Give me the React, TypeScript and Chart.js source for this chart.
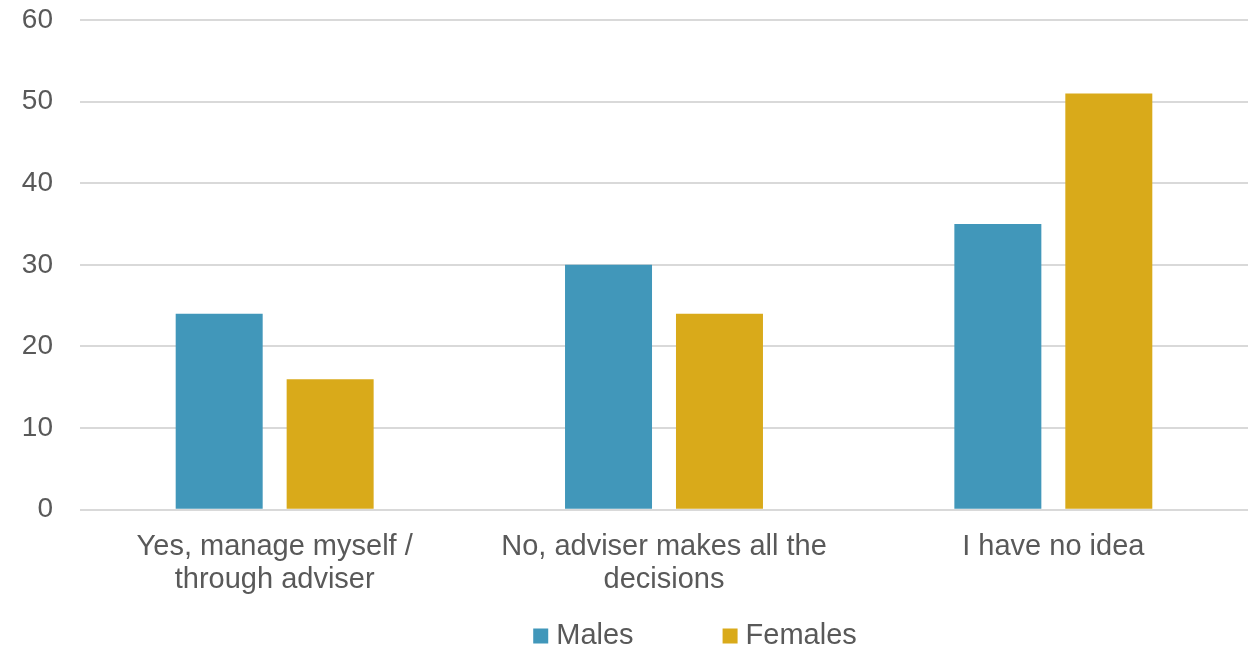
import React, { useEffect, useRef } from "react";
import { Chart, registerables } from "chart.js";

Chart.register(...registerables);

const categories: string[][] = [
  ["Yes, manage myself /", "through adviser"],
  ["No, adviser makes all the", "decisions"],
  ["I have no idea"],
];
const seriesNames = ["Males", "Females"];
const males = [24, 30, 35];
const females = [16, 24, 51];
const yTicks = [0, 10, 20, 30, 40, 50, 60];

const TEAL = "#4197BA";
const GOLD = "#D9AA1A";
const TEXT = "#595959";
const FONT = "'Liberation Sans', Arial, sans-serif";

const legendPlugin = {
  id: "customLegend",
  afterDraw(chart: any) {
    const ctx = chart.ctx;
    const ds = chart.data.datasets;
    ctx.save();
    ctx.font = `29px ${FONT}`;
    ctx.textBaseline = "middle";
    const box = 15;
    const gapText = 8;
    const gapItem = 89;
    const widths = ds.map((d: any) => box + gapText + ctx.measureText(d.label).width);
    const total = widths.reduce((a: number, b: number) => a + b, 0) + gapItem * (ds.length - 1);
    const centerX = (chart.chartArea.left + chart.chartArea.right) / 2 + 31;
    let x = centerX - total / 2;
    const y = chart.height - 16;
    ds.forEach((d: any, i: number) => {
      ctx.fillStyle = d.backgroundColor;
      ctx.fillRect(x, y - box / 2, box, box);
      ctx.fillStyle = TEXT;
      ctx.textAlign = "left";
      ctx.fillText(d.label, x + box + gapText, y);
      x += widths[i] + gapItem;
    });
    ctx.restore();
  },
};

export default function App() {
  const ref = useRef<HTMLCanvasElement | null>(null);
  useEffect(() => {
    document.body.style.margin = "0";
    if (!ref.current) return;
    const chart = new Chart(ref.current, {
      type: "bar",
      data: {
        labels: categories as any,
        datasets: [
          { label: seriesNames[0], data: males, backgroundColor: TEAL, categoryPercentage: 0.57, barPercentage: 0.784 },
          { label: seriesNames[1], data: females, backgroundColor: GOLD, categoryPercentage: 0.57, barPercentage: 0.784 },
        ],
      },
      options: {
        animation: false,
        responsive: true,
        maintainAspectRatio: false,
        layout: { padding: { top: 20, right: 10, left: 20, bottom: 35 } },
        plugins: { legend: { display: false }, tooltip: { enabled: false } },
        scales: {
          x: {
            grid: { display: false, drawTicks: false },
            border: { display: false },
            ticks: { color: TEXT, font: { family: FONT, size: 29, lineHeight: 1.16 }, padding: 20, maxRotation: 0, autoSkip: false },
          },
          y: {
            min: 0,
            max: 60,
            afterBuildTicks: (axis: any) => {
              axis.ticks = yTicks.map((v) => ({ value: v }));
            },
            afterFit: (axis: any) => {
              axis.width = 60;
              axis.paddingTop = 0;
              axis.paddingBottom = 0;
            },
            grid: { color: "#D9D9D9", lineWidth: 2, drawTicks: false },
            border: { display: false },
            ticks: { color: TEXT, font: { family: FONT, size: 28 }, padding: 27 },
          },
        },
      },
      plugins: [legendPlugin],
    });
    return () => chart.destroy();
  }, []);
  return (
    <div style={{ width: 1258, height: 652, position: "relative" }}>
      <canvas ref={ref} />
    </div>
  );
}
